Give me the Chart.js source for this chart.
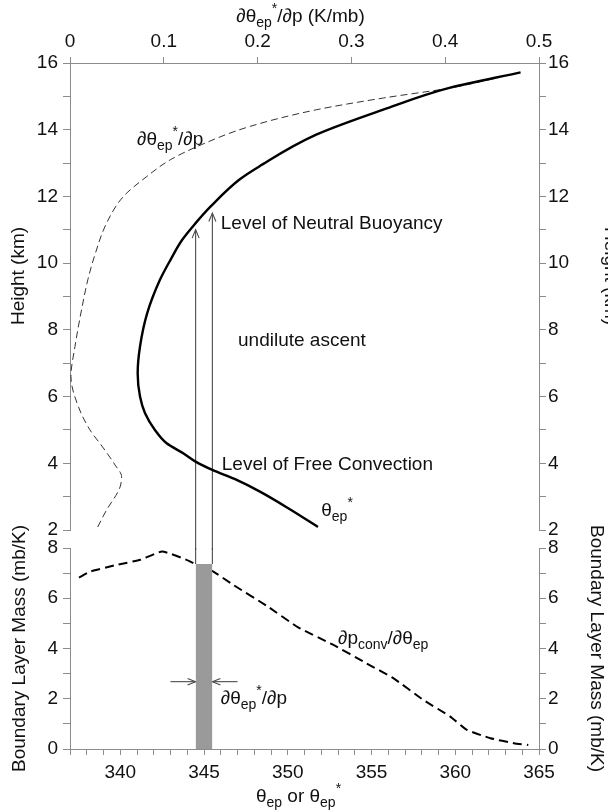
<!DOCTYPE html>
<html>
<head>
<meta charset="utf-8">
<script src="https://cdn.jsdelivr.net/npm/chart.js@4.4.1/dist/chart.umd.min.js"></script>
<style>
  html, body { margin: 0; padding: 0; background: #fff; }
  #wrap { position: relative; width: 608px; height: 811px; overflow: hidden; }
  canvas { position: absolute; left: 0; top: 0; }
</style>
</head>
<body>
<div id="wrap">
  <canvas id="upper" width="608" height="811"></canvas>
  <canvas id="lower" width="608" height="811"></canvas>
</div>
<script>
// ===== data =====

// theta_ep* profile, upper panel (K on the bottom axis, height in km)
const thetaStarKm = [2.09, 2.6, 3.15, 3.5, 3.8, 4.05, 4.3, 4.6, 5.0, 5.5, 6.0, 6.7, 7.5, 8.5, 9.5, 10.1, 10.7, 11.2, 11.7, 12.5, 12.9, 13.85, 14.6, 15.26, 15.72];
const thetaStarK  = [351.8, 350.2, 348.34, 346.95, 345.5, 344.5, 343.76, 342.77, 342.07, 341.48, 341.18, 341.04, 341.18, 341.61, 342.37, 343.0, 343.7, 344.5, 345.4, 347.1, 348.3, 351.7, 355.7, 359.7, 363.9];

// d theta_ep* / dp profile, upper panel (K/mb on the top axis)
const dThetaDpKm = [2.09, 2.6, 3.26, 3.6, 3.95, 4.46, 5.0, 5.7, 6.6, 7.5, 8.7, 9.5, 10.2, 11.2, 12.0, 12.6, 13.1, 13.55, 14.1, 14.6, 14.95, 15.25, 15.55];
const dThetaDp   = [0.0295, 0.039, 0.053, 0.055, 0.048, 0.0355, 0.0213, 0.0089, 0.001, 0.0053, 0.013, 0.019, 0.026, 0.039, 0.057, 0.082, 0.107, 0.14, 0.192, 0.263, 0.334, 0.405, 0.455];

// dp_conv / d theta_ep, lower panel (boundary layer mass, mb/K)
const convK    = [337.54, 338.2, 339.8, 341.2, 342.5, 343.96, 344.76, 345.56, 346.75, 348.74, 350.6, 352.7, 354.7, 356.3, 358.1, 359.7, 360.7, 362.1, 363.5, 364.36];
const convMass = [6.82, 7.06, 7.33, 7.53, 7.86, 7.53, 7.26, 7.06, 6.53, 5.7, 4.85, 4.15, 3.41, 2.82, 1.95, 1.29, 0.76, 0.43, 0.23, 0.16];

// shaded parcel band and the two undilute ascents
const bandK = [344.5, 345.5];
const bandMass = 7.36;
const ascentTopKm = [11.0, 11.5];   // level of neutral buoyancy reached
const ascentBaseKm = 1.4;           // carried below the upper panel into the lower one
const widthArrowMass = 2.68;
const widthArrowTailK = [343.0, 347.0];

// axis ranges
const thetaMin = 337, thetaMax = 365;
const kmMin = 2, kmMax = 16;
const massMin = 0, massMax = 8;
const dtdpMin = 0, dtdpMax = 0.5;

// ===== helpers =====

const FONT = '"Liberation Sans", Arial, Helvetica, sans-serif';
const AXIS_GREY = '#8c8c8c';
const TXT = 19;

function zip(xs, ys) {
  return xs.map((x, i) => ({ x: x, y: ys[i] }));
}

function lineSet(data, xAxisID, yAxisID, extra) {
  return Object.assign({
    data: data,
    xAxisID: xAxisID,
    yAxisID: yAxisID,
    pointRadius: 0,
    borderColor: '#4a4a4a',
    borderWidth: 1.1,
    tension: 0,
    fill: false,
    clip: false
  }, extra || {});
}

// open arrowheads as little polylines in data units
function chevron(tx, ty, dx, dy) {
  return [{ x: tx - dx, y: ty - dy }, { x: tx, y: ty }, { x: tx + dx, y: ty - dy }];
}
function chevronH(tx, ty, dx, dy) {
  return [{ x: tx - dx, y: ty + dy }, { x: tx, y: ty }, { x: tx - dx, y: ty - dy }];
}

function drawRich(ctx, parts, x, y, size, align) {
  const small = Math.round(size * 0.72);
  const widths = parts.map(p => {
    ctx.font = (p[1] ? small : size) + 'px ' + FONT;
    return ctx.measureText(p[0]).width;
  });
  const total = widths.reduce((a, b) => a + b, 0);
  let cx = align === 'center' ? x - total / 2 : x;
  parts.forEach((p, i) => {
    ctx.font = (p[1] ? small : size) + 'px ' + FONT;
    let dy = 0;
    if (p[1] === 'sub') dy = size * 0.32;
    if (p[1] === 'sup') dy = -size * 0.42;
    ctx.fillText(p[0], cx, y + dy);
    cx += widths[i];
  });
}

function notesPlugin(items) {
  return {
    id: 'notes',
    afterDatasetsDraw(chart) {
      const ctx = chart.ctx;
      const area = chart.chartArea;
      items.forEach(item => {
        let x, y;
        if (item.xAxis) {
          x = chart.scales[item.xAxis].getPixelForValue(item.x);
          y = chart.scales[item.yAxis].getPixelForValue(item.y);
        } else {
          x = item.px !== undefined ? item.px : (area.left + area.right) / 2 + (item.dx || 0);
          y = item.py;
        }
        ctx.save();
        ctx.fillStyle = '#111';
        ctx.textBaseline = 'middle';
        ctx.translate(x, y);
        if (item.rotate) ctx.rotate(item.rotate * Math.PI / 180);
        drawRich(ctx, item.parts, 0, 0, TXT, item.align || 'left');
        ctx.restore();
      });
    }
  };
}

function sideAxis(position, min, max, width, title, titlePad) {
  return {
    type: 'linear',
    position: position,
    min: min,
    max: max,
    afterFit: s => { s.width = width; },
    border: { display: true, color: AXIS_GREY, width: 1 },
    grid: { drawOnChartArea: false, drawTicks: true, tickLength: 7, color: AXIS_GREY },
    ticks: {
      stepSize: 1,
      maxTicksLimit: 100,
      autoSkip: false,
      padding: position === 'left' ? 5 : 2,
      color: '#111',
      font: { family: FONT, size: TXT },
      callback: v => (v % 2 === 0 ? v : '')
    },
    title: {
      display: !!title,
      text: title || '',
      color: '#111',
      font: { family: FONT, size: TXT },
      padding: { top: titlePad, bottom: 0 }
    }
  };
}

const baseOptions = {
  responsive: false,
  animation: false,
  events: [],
  plugins: { legend: { display: false }, tooltip: { enabled: false } }
};

// vertical profiles: smooth them along the height axis
const profileStyle = { indexAxis: 'y', cubicInterpolationMode: 'monotone', clip: true };

// ===== upper panel: height profiles =====

const upperDatasets = [
  lineSet(zip(thetaStarK, thetaStarKm), 'x', 'y', Object.assign({ borderColor: '#000', borderWidth: 2.4 }, profileStyle)),
  lineSet(zip(dThetaDp, dThetaDpKm), 'xTop', 'y', Object.assign({ borderColor: '#333', borderWidth: 1, borderDash: [7, 4] }, profileStyle))
];
bandK.forEach((k, i) => {
  upperDatasets.push(lineSet([{ x: k, y: ascentBaseKm }, { x: k, y: ascentTopKm[i] }], 'x', 'y'));
  upperDatasets.push(lineSet(chevron(k, ascentTopKm[i], 0.21, 0.25), 'x', 'y'));
});

const upperNotes = [
  { parts: [['∂θ'], ['ep', 'sub'], ['*', 'sup'], ['/∂p']], xAxis: 'x', yAxis: 'y', x: 341.0, y: 13.7 },
  { parts: [['Level of Neutral Buoyancy']], xAxis: 'x', yAxis: 'y', x: 346.0, y: 11.18 },
  { parts: [['undilute ascent']], xAxis: 'x', yAxis: 'y', x: 347.03, y: 7.67 },
  { parts: [['Level of Free Convection']], xAxis: 'x', yAxis: 'y', x: 346.06, y: 3.95 },
  { parts: [['θ'], ['ep', 'sub'], ['*', 'sup']], xAxis: 'x', yAxis: 'y', x: 352.0, y: 2.57 },
  { parts: [['∂θ'], ['ep', 'sub'], ['*', 'sup'], ['/∂p (K/mb)']], py: 17, align: 'center', dx: -4 },
  { parts: [['Height (km)']], px: 19, py: 276, align: 'center', rotate: -90 },
  { parts: [['Height (km)']], px: 610, py: 276, align: 'center', rotate: 90 }
];

new Chart(document.getElementById('upper'), {
  type: 'line',
  data: { datasets: upperDatasets },
  options: Object.assign({}, baseOptions, {
    layout: { padding: { left: 0, right: 0, top: 0, bottom: 811 - 530 } },
    scales: {
      x: { type: 'linear', display: false, min: thetaMin, max: thetaMax },
      xTop: {
        type: 'linear',
        position: 'top',
        min: dtdpMin,
        max: dtdpMax,
        afterFit: s => { s.height = 63; },
        border: { display: true, color: AXIS_GREY, width: 1 },
        grid: { drawOnChartArea: false, drawTicks: true, tickLength: 6, color: AXIS_GREY },
        ticks: { stepSize: 0.1, autoSkip: false, maxRotation: 0, padding: 4, color: '#111', font: { family: FONT, size: TXT } }
      },
      y: sideAxis('left', kmMin, kmMax, 70, '', 0),
      y2: sideAxis('right', kmMin, kmMax, 69, '', 0)
    }
  }),
  plugins: [notesPlugin(upperNotes)]
});

// ===== lower panel: boundary layer mass =====

const lowerDatasets = [
  lineSet([
    { x: bandK[0], y: 0 }, { x: bandK[0], y: bandMass },
    { x: bandK[1], y: bandMass }, { x: bandK[1], y: 0 }
  ], 'x', 'y', { borderWidth: 0, borderColor: 'rgba(0,0,0,0)', fill: 'origin', backgroundColor: '#9a9a9a', clip: true }),
  lineSet(zip(convK, convMass), 'x', 'y', { borderColor: '#000', borderWidth: 2, borderDash: [9, 5], tension: 0.15, clip: true })
];
bandK.forEach(k => {
  lowerDatasets.push(lineSet([{ x: k, y: bandMass }, { x: k, y: massMax }], 'x', 'y'));
});
lowerDatasets.push(lineSet([{ x: widthArrowTailK[0], y: widthArrowMass }, { x: bandK[0], y: widthArrowMass }], 'x', 'y'));
lowerDatasets.push(lineSet(chevronH(bandK[0], widthArrowMass, 0.48, 0.13), 'x', 'y'));
lowerDatasets.push(lineSet([{ x: widthArrowTailK[1], y: widthArrowMass }, { x: bandK[1], y: widthArrowMass }], 'x', 'y'));
lowerDatasets.push(lineSet(chevronH(bandK[1], widthArrowMass, -0.48, 0.13), 'x', 'y'));

const lowerNotes = [
  { parts: [['∂p'], ['conv', 'sub'], ['/∂θ'], ['ep', 'sub']], xAxis: 'x', yAxis: 'y', x: 353.0, y: 4.38 },
  { parts: [['∂θ'], ['ep', 'sub'], ['*', 'sup'], ['/∂p']], xAxis: 'x', yAxis: 'y', x: 346.0, y: 1.99 },
  { parts: [['θ'], ['ep', 'sub'], [' or θ'], ['ep', 'sub'], ['*', 'sup']], py: 797, align: 'center', dx: -6 }
];

new Chart(document.getElementById('lower'), {
  type: 'line',
  data: { datasets: lowerDatasets },
  options: Object.assign({}, baseOptions, {
    layout: { padding: { left: 0, right: 0, top: 548, bottom: 0 } },
    scales: {
      x: {
        type: 'linear',
        position: 'bottom',
        min: thetaMin,
        max: thetaMax,
        afterFit: s => { s.height = 811 - 749; },
        border: { display: true, color: AXIS_GREY, width: 1 },
        grid: { drawOnChartArea: false, drawTicks: true, tickLength: 6, color: AXIS_GREY },
        ticks: {
          stepSize: 1,
          maxTicksLimit: 100,
          autoSkip: false,
          maxRotation: 0,
          padding: 6,
          color: '#111',
          font: { family: FONT, size: TXT },
          callback: v => (v % 5 === 0 ? v : '')
        }
      },
      y: sideAxis('left', massMin, massMax, 70, 'Boundary Layer Mass (mb/K)', 8),
      y2: sideAxis('right', massMin, massMax, 69, 'Boundary Layer Mass (mb/K)', 0)
    }
  }),
  plugins: [notesPlugin(lowerNotes)]
});
</script>
</body>
</html>
